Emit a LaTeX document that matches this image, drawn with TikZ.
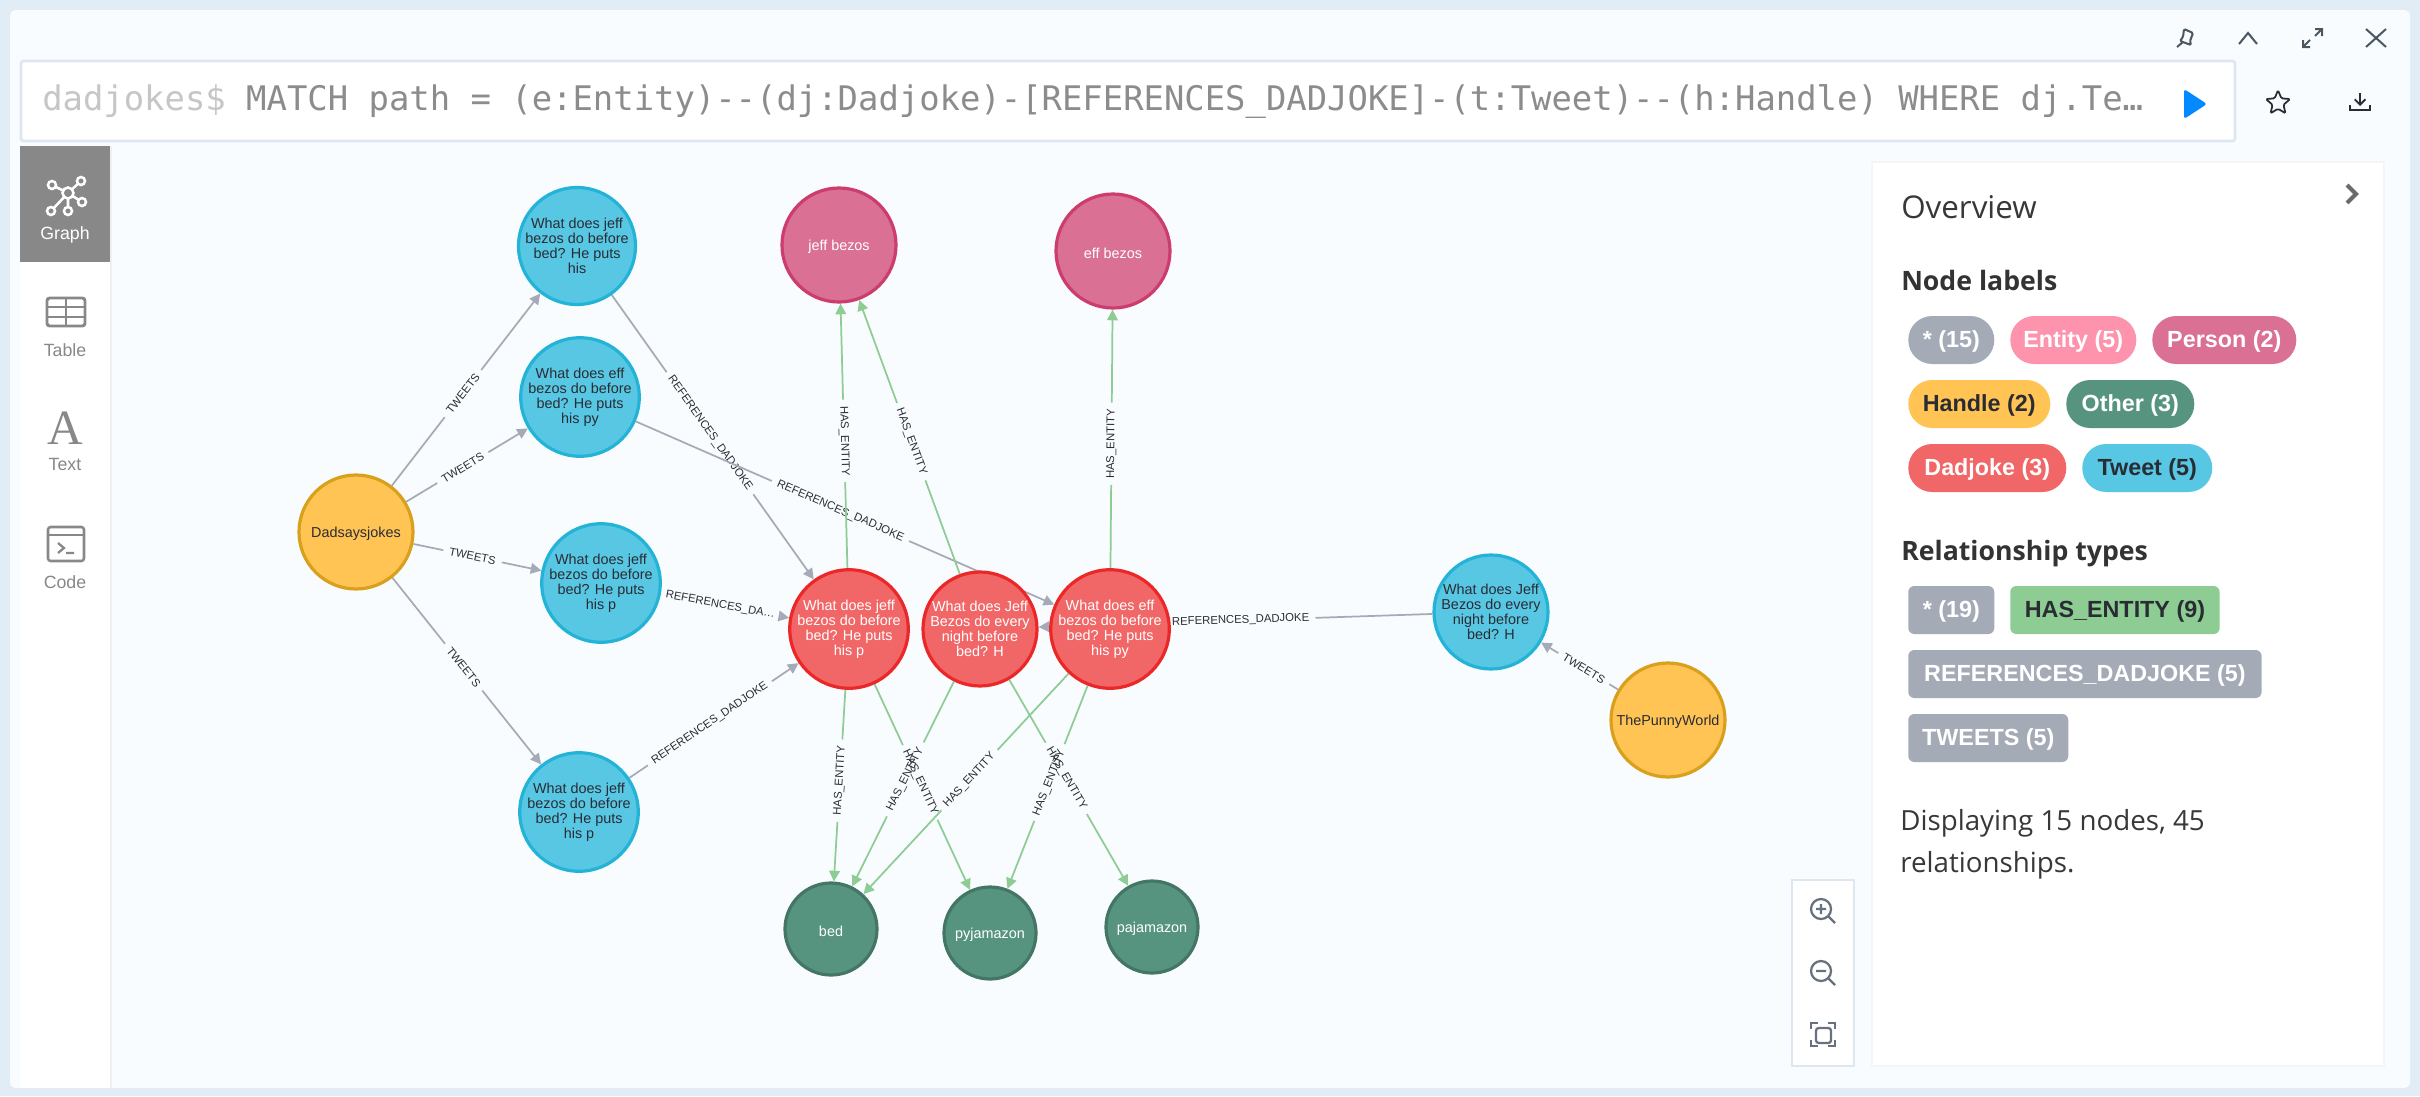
\documentclass[tikz,border=0pt]{standalone}
\usepackage{fontspec}
\setmainfont{Liberation Sans}
\newfontfamily\panelfont{Open Sans}
\newfontfamily\querymono{DejaVu Sans Mono}
\newfontfamily\iconserif{Liberation Serif}
\usetikzlibrary{arrows.meta,shapes.geometric}
\pgfdeclarelayer{panels}
\pgfdeclarelayer{links}
\pgfsetlayers{panels,links,main}
\definecolor{pagebg}{HTML}{E2ECF5}
\definecolor{cardbg}{HTML}{F9FCFF}
\definecolor{edgeline}{HTML}{DCE7F1}
\definecolor{inkdark}{HTML}{2A2C34}
\definecolor{iconink}{HTML}{4A5662}
\definecolor{zoomink}{HTML}{68727F}
\definecolor{sidegrey}{HTML}{888888}
\definecolor{querygrey}{HTML}{8C8C8C}
\definecolor{promptgrey}{HTML}{C6C6C6}
\definecolor{playblue}{HTML}{018BFF}
\definecolor{relgrey}{HTML}{A5ABB6}
\definecolor{relgreen}{HTML}{8DCC93}
\definecolor{tweetfill}{HTML}{57C7E3}
\definecolor{tweetedge}{HTML}{23B3D7}
\definecolor{jokefill}{HTML}{F16667}
\definecolor{jokeedge}{HTML}{EB2728}
\definecolor{personfill}{HTML}{DA7194}
\definecolor{personedge}{HTML}{CC3C6C}
\definecolor{handlefill}{HTML}{FFC454}
\definecolor{handleedge}{HTML}{D9A01C}
\definecolor{otherfill}{HTML}{569480}
\definecolor{otheredge}{HTML}{447666}
\definecolor{entitypink}{HTML}{FD93AD}
\tikzset{
  graphnode/.style={circle,line width=2.4pt,inner sep=0pt,minimum size=85.5pt,align=center,font=\fontsize{10.8}{11.2}\selectfont,execute at begin node={\rule{0pt}{10.8pt}}},
  tweetnode/.style={graphnode,fill=tweetfill,draw=tweetedge,text=inkdark},
  jokenode/.style={graphnode,fill=jokefill,draw=jokeedge,text=white},
  personnode/.style={graphnode,fill=personfill,draw=personedge,text=white},
  handlenode/.style={graphnode,fill=handlefill,draw=handleedge,text=inkdark},
  othernode/.style={graphnode,fill=otherfill,draw=otheredge,text=white,minimum size=69pt},
  edgelabel/.style={sloped,inner xsep=4.5pt,inner ysep=1pt,text=inkdark,font=\fontsize{8.5}{9}\selectfont},
  greyrel/.style={draw=relgrey,line width=1.3pt},
  greyarrow/.style={greyrel,-{Triangle[length=8pt,width=8pt]}},
  greenrel/.style={draw=relgreen,line width=1.3pt},
  greenarrow/.style={greenrel,-{Triangle[length=8pt,width=8pt]}},
  tabname/.style={font=\fontsize{13.3}{14}\selectfont,text=sidegrey},
  pillbase/.style={anchor=west,inner xsep=1pt,inner ysep=0pt,minimum height=36pt,font=\bfseries\fontsize{17.5}{18}\selectfont,execute at begin node={\rule{0pt}{15pt}}},
  nodepill/.style={pillbase,rounded corners=17.9pt},
  relpill/.style={pillbase,rounded corners=4.5pt},
  overtitle/.style={anchor=base west,inner sep=0pt,text=black!80,font=\panelfont\bfseries\fontsize{20}{22}\selectfont},
  overtext/.style={anchor=base west,inner sep=0pt,text=black!78,font=\panelfont\fontsize{20.8}{22}\selectfont},
  iconline/.style={draw=iconink,line width=1.5pt},
  zoomline/.style={draw=zoomink,line width=1.7pt},
  sideicon/.style={draw=sidegrey,line width=2.2pt}
}
\begin{document}
\begin{tikzpicture}[x=0.75pt,y=-0.75pt]
\useasboundingbox (0,0) rectangle (2420,1096);

\begin{pgfonlayer}{panels}
%Shape: Rectangle [page and card]
\fill [pagebg] (0,0) rectangle (2420,1096);
\fill [cardbg,rounded corners=4pt] (10,10) rectangle (2410,1088);
\end{pgfonlayer}

%Shape: Rectangle [query box]
\draw [edgeline,fill=white,line width=2pt,rounded corners=2pt] (21,61) rectangle (2235,141);
%Shape: Rectangle [side tabs]
\fill [black!6] (110,146) rectangle (112,1088);
\fill [white] (20,146) rectangle (110,1088);
\fill [sidegrey] (20,146) rectangle (110,262);
%Shape: Rectangle [overview and zoom panels]
\draw [black!4,fill=white,line width=1.5pt] (1872,162) rectangle (2384,1066);
\draw [edgeline,fill=white,line width=2pt] (1792,880) rectangle (1854,1066);

% Text Node
\draw (42,110) node [anchor=base west,inner sep=0pt,font=\querymono\fontsize{25.41}{27}\selectfont,text=querygrey] (querytext) {\textcolor{promptgrey}{dadjokes\$} MATCH path = (e:Entity){-}{-}(dj:Dadjoke)-[REFERENCES\_DADJOKE]-(t:Tweet){-}{-}(h:Handle) WHERE dj.Te…};

%Shape: Polygon [play]
\fill [playblue,rounded corners=2pt] (2184,89) -- (2207,104) -- (2184,119) -- cycle;
%Shape: Star [save]
\draw (2278,103) node [star,star points=5,star point ratio=2.2,draw=inkdark,line width=1.3pt,inner sep=0pt,minimum size=19pt,rounded corners=1pt] (savestar) {};
%Shape: Download
\draw [draw=inkdark,line width=1.4pt,-{Straight Barb[length=4pt,width=8pt]}] (2360,93) -- (2360,106);
\draw [draw=inkdark,line width=1.4pt] (2350,105) -- (2350,110) -- (2370,110) -- (2370,105);

%Shape: Pin
\draw [iconline,rounded corners=1pt] (2184,29) -- (2193,33) -- (2190,41) -- (2191,45) -- (2180,41) -- (2183,37) -- cycle;
\draw [iconline] (2183,42) -- (2177,47);
%Shape: Caret
\draw [iconline] (2239,44) -- (2248,33) -- (2257,44);
%Shape: Expand
\draw [iconline] (2315,36) -- (2322,29) (2315,29) -- (2322,29) -- (2322,36);
\draw [iconline] (2310,40) -- (2303,47) (2303,40) -- (2303,47) -- (2310,47);
%Shape: Close
\draw [iconline] (2366,29) -- (2386,47) (2386,29) -- (2366,47);

%Shape: Graph icon
\draw [draw=white,line width=1.9pt] (68,193) -- (52,185) (68,193) -- (81,181) (68,193) -- (82,202) (68,193) -- (68,211) (68,193) -- (51,211);
\draw [draw=white,fill=sidegrey,line width=1.9pt] (68,193) circle [radius=5.5];
\draw [draw=white,fill=sidegrey,line width=1.9pt] (52,185) circle [radius=4] (81,181) circle [radius=4] (82,202) circle [radius=4] (68,211) circle [radius=4] (51,211) circle [radius=4];
% Text Node
\draw (65,235) node [tabname,text=white] (tabgraph) {Graph};

%Shape: Table icon
\draw [sideicon,rounded corners=2pt] (47,298) rectangle (85,326);
\draw [sideicon,line width=1.6pt] (47,307) -- (85,307) (47,317) -- (85,317) (66,298) -- (66,326);
% Text Node
\draw (65,350) node [tabname] (tabtable) {Table};

% Text Node
\draw (65,428) node [font=\iconserif\fontsize{37}{38}\selectfont,text=sidegrey,inner sep=0pt] (iconletter) {A};
\draw (65,464) node [tabname] (tabtext) {Text};

%Shape: Code icon
\draw [sideicon,line width=1.9pt,rounded corners=2pt] (48,527) rectangle (84,561);
\draw [sideicon,line width=1.9pt] (48,535) -- (84,535);
\draw [sideicon,line width=1.7pt] (58,543) -- (64,548) -- (58,553) (66,553) -- (74,553);
% Text Node
\draw (65,582) node [tabname] (tabcode) {Code};

% Graph Nodes
\draw (577,246) node [tweetnode] (tweetjeffa) {What does jeff\\bezos do before\\bed? He puts\\his};
\draw (580,397) node [tweetnode] (tweeteff) {What does eff\\bezos do before\\bed? He puts\\his py};
\draw (601,583) node [tweetnode] (tweetjeffb) {What does jeff\\bezos do before\\bed? He puts\\his p};
\draw (579,812) node [tweetnode] (tweetjeffc) {What does jeff\\bezos do before\\bed? He puts\\his p};
\draw (1491,612) node [tweetnode] (tweetjeffd) {What does Jeff\\Bezos do every\\night before\\bed? H};
\draw (356,532) node [handlenode] (dadsays) {Dadsaysjokes};
\draw (1668,720) node [handlenode] (punny) {ThePunnyWorld};
\draw (849,629) node [jokenode] (jokejeff) {What does jeff\\bezos do before\\bed? He puts\\his p};
\draw (980,629) node [jokenode] (jokenight) {What does Jeff\\Bezos do every\\night before\\bed? H};
\draw (1110,629) node [jokenode] (jokeeff) {What does eff\\bezos do before\\bed? He puts\\his py};
\draw (839,245) node [personnode] (jeffbezos) {jeff bezos};
\draw (1113,251) node [personnode] (effbezos) {eff bezos};
\draw (831,929) node [othernode] (bed) {bed};
\draw (990,933) node [othernode] (pyjamazon) {pyjamazon};
\draw (1152,927) node [othernode] (pajamazon) {pajamazon};

\begin{pgfonlayer}{links}
%Straight Lines [tweets]
\path (dadsays) -- node [edgelabel,pos=.479] (tweetsa) {TWEETS} (tweetjeffa);
\draw [greyrel] (dadsays) -- (tweetsa);
\draw [greyarrow] (tweetsa) -- (tweetjeffa);
\path (dadsays) -- node [edgelabel,pos=.465] (tweetsb) {TWEETS} (tweeteff);
\draw [greyrel] (dadsays) -- (tweetsb);
\draw [greyarrow] (tweetsb) -- (tweeteff);
\path (dadsays) -- node [edgelabel,pos=.462] (tweetsc) {TWEETS} (tweetjeffb);
\draw [greyrel] (dadsays) -- (tweetsc);
\draw [greyarrow] (tweetsc) -- (tweetjeffb);
\path (dadsays) -- node [edgelabel,pos=.479] (tweetsd) {TWEETS} (tweetjeffc);
\draw [greyrel] (dadsays) -- (tweetsd);
\draw [greyarrow] (tweetsd) -- (tweetjeffc);
\path (punny) -- node [edgelabel,pos=.444] (tweetse) {TWEETS} (tweetjeffd);
\draw [greyrel] (punny) -- (tweetse);
\draw [greyarrow] (tweetse) -- (tweetjeffd);

%Straight Lines [references]
\path (tweetjeffa) -- node [edgelabel,pos=.486] (refa) {REFERENCES\_DADJOKE} (jokejeff);
\draw [greyrel] (tweetjeffa) -- (refa);
\draw [greyarrow] (refa) -- (jokejeff);
\path (tweeteff) -- node [edgelabel,pos=.489] (refb) {REFERENCES\_DADJOKE} (jokeeff);
\draw [greyrel] (tweeteff) -- (refb);
\draw [greyarrow] (refb) -- (jokeeff);
\path (tweetjeffb) -- node [edgelabel,pos=.463] (refc) {REFERENCES\_DA…} (jokejeff);
\draw [greyrel] (tweetjeffb) -- (refc);
\draw [greyarrow] (refc) -- (jokejeff);
\path (tweetjeffc) -- node [edgelabel,pos=.476] (refd) {REFERENCES\_DADJOKE} (jokejeff);
\draw [greyrel] (tweetjeffc) -- (refd);
\draw [greyarrow] (refd) -- (jokejeff);
\path (tweetjeffd) -- node [edgelabel,pos=.487] (refe) {REFERENCES\_DADJOKE} (jokenight);
\draw [greyrel] (tweetjeffd) -- (refe);
\draw [greyarrow] (refe) -- (jokenight);

%Straight Lines [entities]
\path (jokejeff) -- node [edgelabel,pos=.481] (hasa) {HAS\_ENTITY} (jeffbezos);
\draw [greenrel] (jokejeff) -- (hasa);
\draw [greenarrow] (hasa) -- (jeffbezos);
\path (jokenight) -- node [edgelabel,pos=.483] (hasb) {HAS\_ENTITY} (jeffbezos);
\draw [greenrel] (jokenight) -- (hasb);
\draw [greenarrow] (hasb) -- (jeffbezos);
\path (jokeeff) -- node [edgelabel,pos=.481] (hasc) {HAS\_ENTITY} (effbezos);
\draw [greenrel] (jokeeff) -- (hasc);
\draw [greenarrow] (hasc) -- (effbezos);
\path (jokejeff) -- node [edgelabel,pos=.474] (hasd) {HAS\_ENTITY} (bed);
\draw [greenrel] (jokejeff) -- (hasd);
\draw [greenarrow] (hasd) -- (bed);
\path (jokejeff) -- node [edgelabel,pos=.478] (hase) {HAS\_ENTITY} (pyjamazon);
\draw [greenrel] (jokejeff) -- (hase);
\draw [greenarrow] (hase) -- (pyjamazon);
\path (jokenight) -- node [edgelabel,pos=.478] (hasf) {HAS\_ENTITY} (bed);
\draw [greenrel] (jokenight) -- (hasf);
\draw [greenarrow] (hasf) -- (bed);
\path (jokenight) -- node [edgelabel,pos=.479] (hasg) {HAS\_ENTITY} (pajamazon);
\draw [greenrel] (jokenight) -- (hasg);
\draw [greenarrow] (hasg) -- (pajamazon);
\path (jokeeff) -- node [edgelabel,pos=.483] (hash) {HAS\_ENTITY} (bed);
\draw [greenrel] (jokeeff) -- (hash);
\draw [greenarrow] (hash) -- (bed);
\path (jokeeff) -- node [edgelabel,pos=.477] (hasi) {HAS\_ENTITY} (pyjamazon);
\draw [greenrel] (jokeeff) -- (hasi);
\draw [greenarrow] (hasi) -- (pyjamazon);
\end{pgfonlayer}

% Text Node
\draw (1901,218) node [overtext,font=\panelfont\fontsize{23.5}{25}\selectfont] (overviewtitle) {Overview};
\draw (1901,290) node [overtitle] (nodelabelstitle) {Node labels};
\draw (1901,560) node [overtitle] (reltypestitle) {Relationship types};
\draw (1900,830) node [overtext] (displayone) {Displaying 15 nodes, 45};
\draw (1900,872) node [overtext] (displaytwo) {relationships.};

%Shape: Chevron
\draw [draw=black!58,line width=3pt] (2347,185) -- (2356,194) -- (2347,203);

% Node label pills
\draw (1908,340) node [nodepill,fill=relgrey,text=white,minimum width=64.5pt] (pillall) {* (15)};
\draw (2010,340) node [nodepill,fill=entitypink,text=white,minimum width=94.5pt] (pillentity) {Entity (5)};
\draw (2152,340) node [nodepill,fill=personfill,text=white,minimum width=108pt] (pillperson) {Person (2)};
\draw (1908,404) node [nodepill,fill=handlefill,text=inkdark,minimum width=106.5pt] (pillhandle) {Handle (2)};
\draw (2066,404) node [nodepill,fill=otherfill,text=white,minimum width=96pt] (pillother) {Other (3)};
\draw (1908,468) node [nodepill,fill=jokefill,text=white,minimum width=118.5pt] (pilljoke) {Dadjoke (3)};
\draw (2082,468) node [nodepill,fill=tweetfill,text=inkdark,minimum width=97.5pt] (pilltweet) {Tweet (5)};

% Relationship type pills
\draw (1908,610) node [relpill,fill=relgrey,text=white,minimum width=64.5pt] (pillrelall) {* (19)};
\draw (2010,610) node [relpill,fill=relgreen,text=inkdark,minimum width=157pt] (pillhas) {HAS\_ENTITY (9)};
\draw (1908,674) node [relpill,fill=relgrey,text=white,minimum width=265pt] (pillrefs) {REFERENCES\_DADJOKE (5)};
\draw (1908,738) node [relpill,fill=relgrey,text=white,minimum width=120pt] (pilltweets) {TWEETS (5)};

%Shape: Zoom icons
\draw [zoomline] (1821,909) circle [radius=10] (1828,916) -- (1835,923) (1816,909) -- (1826,909) (1821,904) -- (1821,914);
\draw [zoomline] (1821,971) circle [radius=10] (1828,978) -- (1835,985) (1816,971) -- (1826,971);
\draw [zoomline,rounded corners=2pt] (1816,1028) rectangle (1831,1043);
\draw [zoomline] (1811,1029) -- (1811,1023) -- (1818,1023) (1828,1023) -- (1835,1023) -- (1835,1029) (1811,1040) -- (1811,1046) -- (1818,1046) (1828,1046) -- (1835,1046) -- (1835,1040);

\end{tikzpicture}
\end{document}
